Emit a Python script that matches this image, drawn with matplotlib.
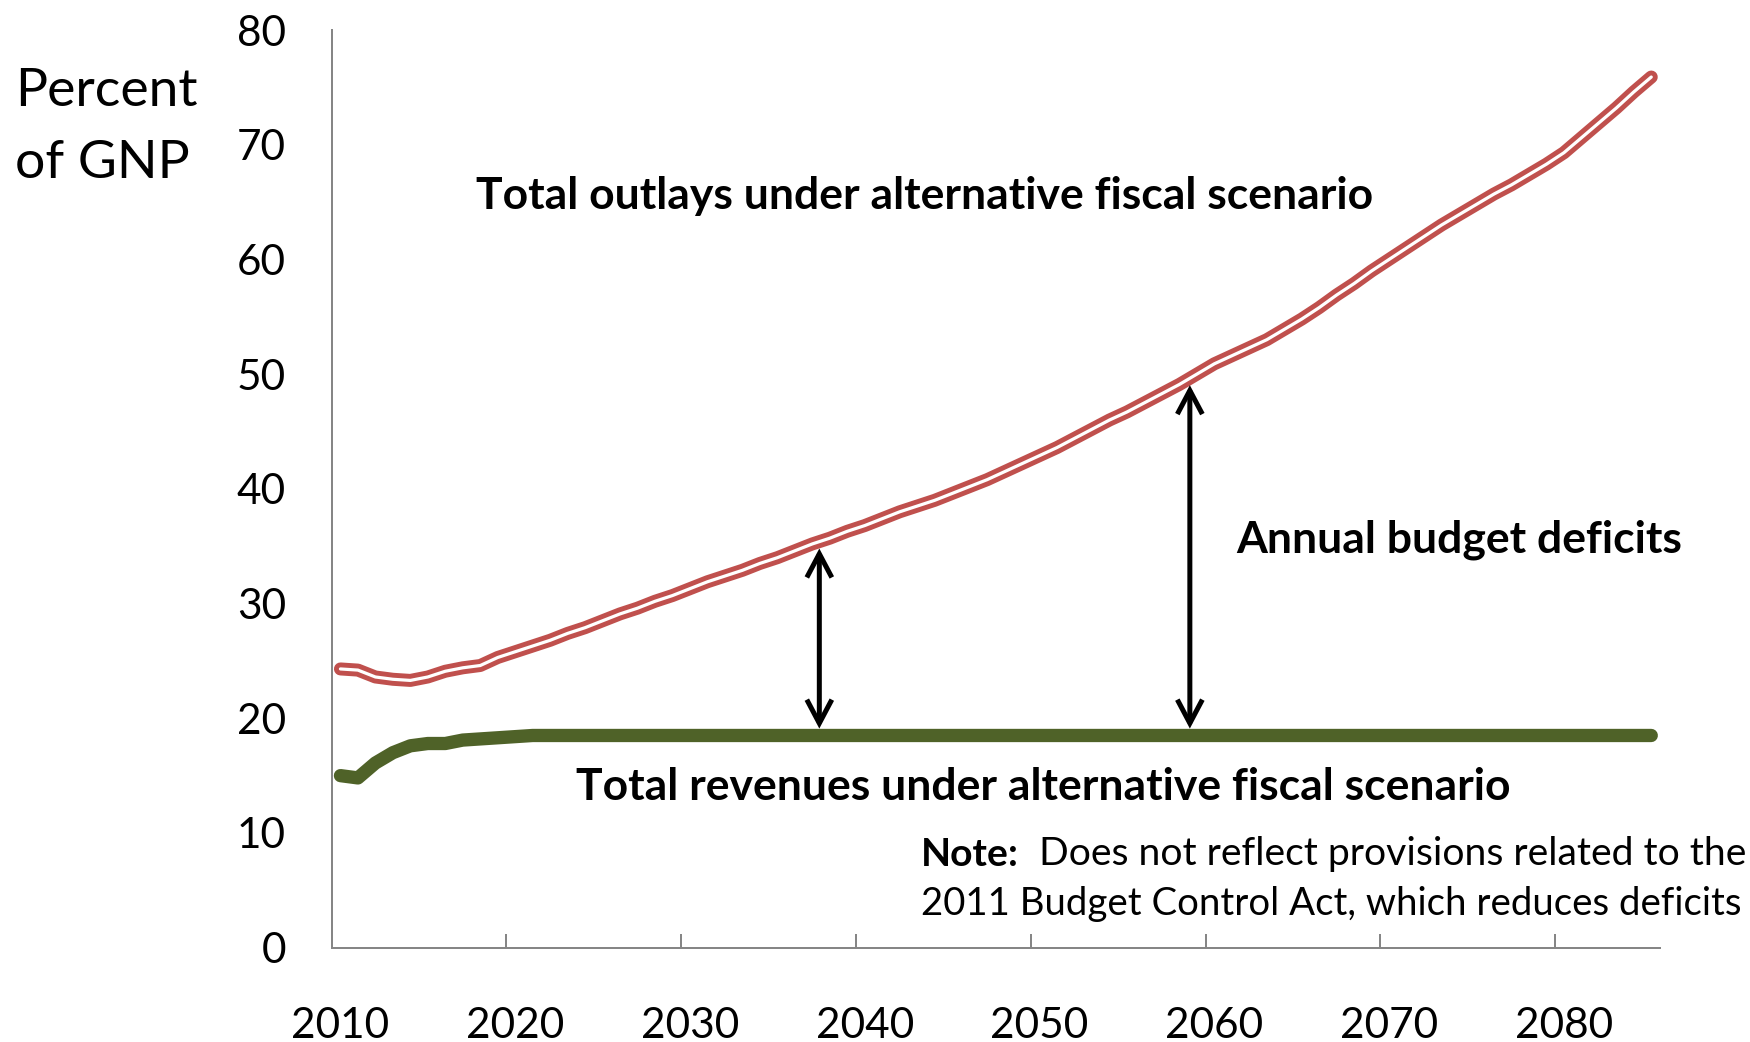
import numpy as np
import matplotlib
matplotlib.use("Agg")
import matplotlib.pyplot as plt
from matplotlib.patches import FancyArrowPatch

plt.rcParams['font.family'] = ['Lato', 'DejaVu Sans']

# Projection years
years = np.arange(2010, 2086)

# Total outlays, percent of GNP
outlays = [
    24.3, 24.2, 23.6, 23.4, 23.3, 23.6, 24.1, 24.4, 24.6, 25.3,
    25.8, 26.3, 26.8, 27.4, 27.9, 28.5, 29.1, 29.6, 30.2, 30.7,
    31.3, 31.9, 32.4, 32.9, 33.5, 34.0, 34.6, 35.2, 35.7, 36.3,
    36.8, 37.4, 38.0, 38.5, 39.0, 39.6, 40.2, 40.8, 41.5, 42.2,
    42.9, 43.6, 44.4, 45.2, 46.0, 46.7, 47.5, 48.3, 49.1, 50.0,
    50.9, 51.6, 52.3, 53.0, 53.9, 54.8, 55.8, 56.9, 57.9, 59.0,
    60.0, 61.0, 62.0, 63.0, 63.9, 64.8, 65.7, 66.5, 67.4, 68.3,
    69.3, 70.6, 71.9, 73.2, 74.6, 75.9,
]

# Total revenues, percent of GNP
revenues = [15.0, 14.8, 16.1, 17.0, 17.6, 17.8, 17.8, 18.1, 18.2, 18.3,
            18.4] + [18.5] * 65

# Years where the deficit gap is marked
arrow_years = [2037.4, 2058.6]

tick_years = [2010, 2020, 2030, 2040, 2050, 2060, 2070, 2080]
y_ticks = [0, 10, 20, 30, 40, 50, 60, 70, 80]

W, H, DPI = 1750, 1042, 100
fig = plt.figure(figsize=(W / DPI, H / DPI), dpi=DPI)
ax = fig.add_axes([331.7 / W, 1 - 947.7 / H, (1660 - 331.7) / W, (947.7 - 30) / H])

# Each year occupies one category slot; points sit at slot centres
xpos = years - years[0] + 0.5

red = '#C0504D'
green = '#4F6228'
px = 72 / DPI

ax.plot(xpos, outlays, color=red, lw=13 * px, solid_capstyle='round',
        solid_joinstyle='round', zorder=3)
ax.plot(xpos, outlays, color='white', lw=3.2 * px, solid_capstyle='round',
        solid_joinstyle='round', zorder=4)
ax.plot(xpos, revenues, color=green, lw=13.3 * px, solid_capstyle='round',
        solid_joinstyle='round', zorder=3)

for yr in arrow_years:
    xa = yr - years[0] + 0.5
    top = np.interp(xa, xpos, outlays) - 0.6
    bot = np.interp(xa, xpos, revenues) + 0.6
    arr = FancyArrowPatch((xa, bot), (xa, top),
                          arrowstyle='<->,head_length=1.7,head_width=0.9',
                          mutation_scale=10, lw=3.6, color='black',
                          shrinkA=0, shrinkB=0, zorder=5,
                          joinstyle='miter', capstyle='butt')
    ax.add_patch(arr)

ax.set_xlim(0, len(years))
ax.set_ylim(0, 80)

for side in ('top', 'right'):
    ax.spines[side].set_visible(False)
for side in ('left', 'bottom'):
    ax.spines[side].set_color('#868686')
    ax.spines[side].set_linewidth(2 * px)

major = [t - years[0] for t in tick_years]
ax.set_xticks(major)
ax.set_xticklabels([])
ax.set_xticks([m + 0.5 for m in major], minor=True)
ax.set_xticklabels([str(t) for t in tick_years], minor=True, fontsize=30.5)
ax.tick_params(axis='x', which='major', direction='in', length=10,
               width=2 * px, color='#868686')
ax.tick_params(axis='x', which='minor', length=0, pad=42.5)

ax.set_yticks(y_ticks)
ax.set_yticklabels([str(v) for v in y_ticks], fontsize=30.5)
ax.tick_params(axis='y', length=0, pad=33)

fig.text(15 / W, 1 - 91.5 / H, 'Percent', fontsize=38.5, ha='left', va='center')
fig.text(15 / W, 1 - 163 / H, 'of GNP', fontsize=38.5, ha='left', va='center')

fig.text(925 / W, 1 - 196 / H, 'Total outlays under alternative fiscal scenario',
         fontsize=32, weight='bold', ha='center', va='center')
fig.text(1459 / W, 1 - 540 / H, 'Annual budget deficits',
         fontsize=32, weight='bold', ha='center', va='center')
fig.text(1043.5 / W, 1 - 787 / H, 'Total revenues under alternative fiscal scenario',
         fontsize=32, weight='bold', ha='center', va='center')

note = fig.text(921 / W, 1 - 854 / H, 'Note:', fontsize=28.2, weight='bold',
                ha='left', va='center')
fig.canvas.draw()
ax.annotate('  Does not reflect provisions related to the', xy=(1, 0),
            xycoords=note, ha='left', va='bottom', fontsize=28.2,
            annotation_clip=False)
fig.text(921 / W, 1 - 904 / H, '2011 Budget Control Act, which reduces deficits',
         fontsize=27.6, ha='left', va='center')

fig.savefig('out.png', dpi=DPI)
